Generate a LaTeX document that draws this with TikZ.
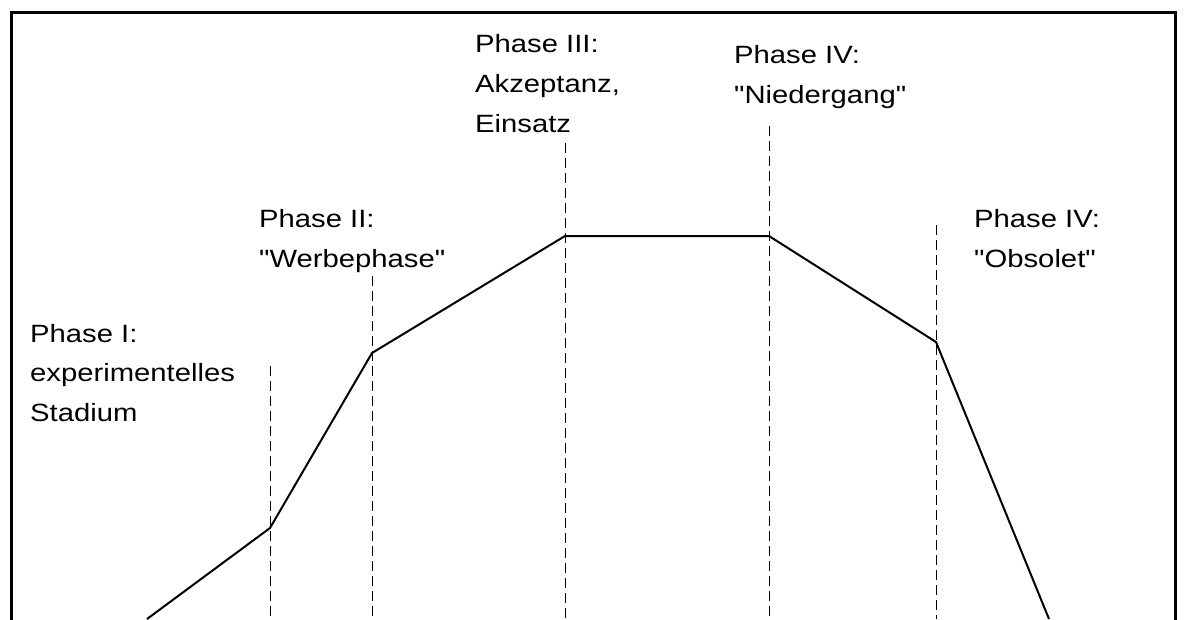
\documentclass[tikz,border=0pt]{standalone}
\usepackage{fontspec}
\setmainfont{Liberation Sans}
\newfontfamily\lblfont[FakeStretch=1.17]{Liberation Sans}
\begin{document}
\begin{tikzpicture}[x=1pt,y=-1pt,
  lbl/.style={anchor=base west,inner sep=0pt,font=\lblfont\fontsize{25}{30}\selectfont},
  guide/.style={line width=1pt,dash pattern=on 10pt off 5pt},
  curve/.style={line width=2pt,line join=miter},
  frame/.style={line width=3pt}]
\useasboundingbox (0,0) rectangle (1186,619);
% frame (no bottom edge)
\coordinate (fbl) at (11,625);
\coordinate (ftl) at (11,12);
\coordinate (ftr) at (1175,12);
\coordinate (fbr) at (1175,625);
\draw[frame] (fbl) -- (ftl) -- (ftr) -- (fbr);
% curve points
\coordinate (c0) at (147,619);
\coordinate (c1) at (270,528);
\coordinate (c2) at (372,353);
\coordinate (c3) at (565,236);
\coordinate (c4) at (769,236);
\coordinate (c5) at (936,342);
\coordinate (c6) at (1049,619);
% guide lines
\coordinate (g1t) at (270,366); \coordinate (g1b) at (270,619);
\coordinate (g2t) at (372,276); \coordinate (g2b) at (372,619);
\coordinate (g3t) at (565,143); \coordinate (g3b) at (565,619);
\coordinate (g4t) at (769,126); \coordinate (g4b) at (769,619);
\coordinate (g5t) at (936,225); \coordinate (g5b) at (936,619);
\draw[guide] (g1t) -- (g1b);
\draw[guide] (g2t) -- (g2b);
\draw[guide] (g3t) -- (g3b);
\draw[guide] (g4t) -- (g4b);
\draw[guide] (g5t) -- (g5b);
\draw[curve] (c0) -- (c1) -- (c2) -- (c3) -- (c4) -- (c5) -- (c6);
% labels
\node[lbl] (p1a) at (30,342) {Phase I:};
\node[lbl] (p1b) at (30,381) {experimentelles};
\node[lbl] (p1c) at (30,421) {Stadium};
\node[lbl] (p2a) at (259,227) {Phase II:};
\node[lbl] (p2b) at (259,267) {"Werbephase"};
\node[lbl] (p3a) at (475,52) {Phase III:};
\node[lbl] (p3b) at (475,92) {Akzeptanz,};
\node[lbl] (p3c) at (475,132) {Einsatz};
\node[lbl] (p4a) at (734,63) {Phase IV:};
\node[lbl] (p4b) at (734,103) {"Niedergang"};
\node[lbl] (p5a) at (974,227) {Phase IV:};
\node[lbl] (p5b) at (974,267) {"Obsolet"};
\end{tikzpicture}
\end{document}
